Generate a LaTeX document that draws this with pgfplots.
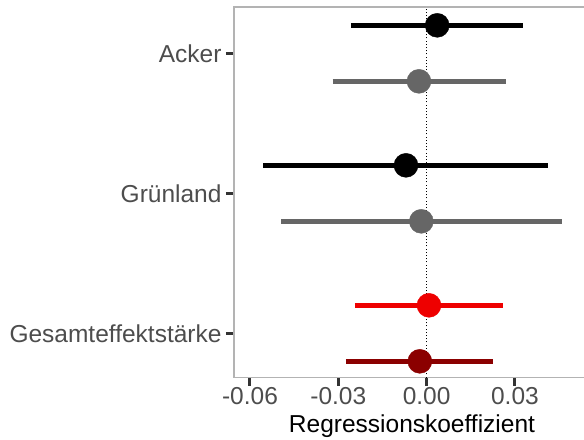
\documentclass[border=0pt]{standalone}
\usepackage{pgfplots}
\pgfplotsset{compat=1.18}
\usepackage{fontspec}
\setmainfont{Liberation Sans}
\definecolor{tickgray}{HTML}{4D4D4D}
\definecolor{tickmark}{HTML}{333333}
\definecolor{bordergray}{HTML}{B3B3B3}
\definecolor{ptgray}{HTML}{666666}
\definecolor{ptred}{HTML}{EE0000}
\definecolor{ptdark}{HTML}{8B0000}
\begin{document}
\begin{tikzpicture}
\begin{axis}[
  at={(234bp,62.3bp)}, anchor=south west,
  scale only axis, width=356bp, height=370.7bp,
  xmin=-0.06543, xmax=0.0555, ymin=0.683, ymax=3.331,
  scaled x ticks=false, scaled y ticks=false,
  axis line style={bordergray, line width=1.2bp},
  xtick={-0.06,-0.03,0,0.03}, xticklabels={-0.06,-0.03,0.00,0.03},
  ytick={1,2,3}, yticklabels={Gesamteffektstärke,Grünland,Acker},
  tick align=outside, major tick length=8bp,
  xtick pos=lower, ytick pos=left,
  tick style={tickmark, line width=3bp},
  ticklabel style={font=\fontsize{24.5bp}{29bp}\selectfont, text=tickgray, inner sep=0pt},
  xticklabel style={anchor=north, yshift=-1.3bp},
  yticklabel style={anchor=east, xshift=-4.3bp},
  xlabel={Regressionskoeffizient},
  xlabel style={font=\fontsize{24.5bp}{29bp}\selectfont, text=black, inner sep=0pt,
    at={(axis description cs:0.5,0)}, anchor=north, yshift=-37bp},
  clip=false,
]
\addplot[black, line width=0.9bp, dash pattern=on 1bp off 2.2bp] coordinates {(0,0.683) (0,3.331)};
% Acker
\addplot[black, line width=4.8bp] coordinates {(-0.0257,3.2) (0.0329,3.2)};
\addplot[black, only marks, mark=*, mark size=12bp, mark options={draw=black, fill=black}] coordinates {(0.0036,3.2)};
\addplot[ptgray, line width=4.8bp] coordinates {(-0.0319,2.8) (0.0269,2.8)};
\addplot[ptgray, only marks, mark=*, mark size=12bp, mark options={draw=ptgray, fill=ptgray}] coordinates {(-0.0026,2.8)};
% Gruenland
\addplot[black, line width=4.8bp] coordinates {(-0.0555,2.2) (0.0413,2.2)};
\addplot[black, only marks, mark=*, mark size=12bp, mark options={draw=black, fill=black}] coordinates {(-0.0070,2.2)};
\addplot[ptgray, line width=4.8bp] coordinates {(-0.0493,1.8) (0.0459,1.8)};
\addplot[ptgray, only marks, mark=*, mark size=12bp, mark options={draw=ptgray, fill=ptgray}] coordinates {(-0.0018,1.8)};
% Gesamt
\addplot[ptred, line width=4.8bp] coordinates {(-0.0244,1.2) (0.0258,1.2)};
\addplot[ptred, only marks, mark=*, mark size=12bp, mark options={draw=ptred, fill=ptred}] coordinates {(0.0008,1.2)};
\addplot[ptdark, line width=4.8bp] coordinates {(-0.0274,0.8) (0.0226,0.8)};
\addplot[ptdark, only marks, mark=*, mark size=12bp, mark options={draw=ptdark, fill=ptdark}] coordinates {(-0.0023,0.8)};
\end{axis}
\pgfresetboundingbox
\path (0,0) rectangle (584bp,440bp);
\end{tikzpicture}
\end{document}
